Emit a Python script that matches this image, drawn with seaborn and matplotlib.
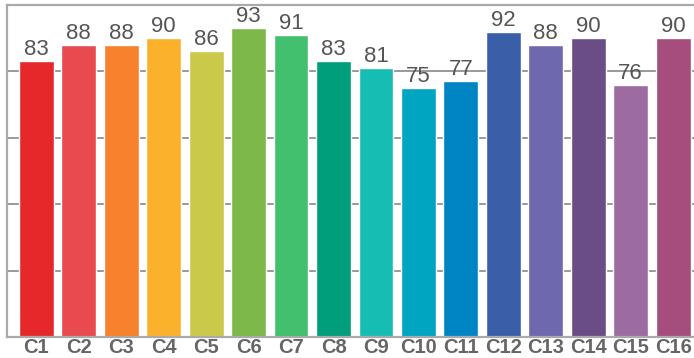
import matplotlib
matplotlib.use("Agg")
import matplotlib.pyplot as plt
import seaborn as sns
import pandas as pd

# --- Data ---
categories = ["C1", "C2", "C3", "C4", "C5", "C6", "C7", "C8",
              "C9", "C10", "C11", "C12", "C13", "C14", "C15", "C16"]
values = [83, 88, 88, 90, 86, 93, 91, 83, 81, 75, 77, 92, 88, 90, 76, 90]
bar_colors = ["#E6282B", "#E84A50", "#F7812C", "#FBB12B", "#CBC94A", "#7DB84A",
              "#42C06E", "#009E7A", "#16BDB2", "#00A5C2", "#0085C4", "#3A5FA8",
              "#6E68AE", "#6A4C87", "#9C6BA2", "#A54E7D"]

df = pd.DataFrame({"cat": categories, "val": values})

sns.set_theme(style="white")
plt.rcParams["font.family"] = ["Liberation Sans", "DejaVu Sans"]

fig = plt.figure(figsize=(6.94, 3.58), dpi=100)
ax = fig.add_axes([7 / 694, 21 / 358, 1 - 7 / 694, 332 / 358])
ax.set_axisbelow(True)

sns.barplot(data=df, x="cat", y="val", hue="cat", palette=bar_colors,
            legend=False, width=0.82, saturation=1, ax=ax)

for i, v in enumerate(values):
    ax.text(i, v + 0.3, str(v), ha="center", va="bottom",
            fontsize=16, color="#555555")

ax.set_ylim(0, 100)
ax.set_xlim(-0.69, 15.49)
ax.set_yticks([20, 40, 60, 80, 100])
ax.set_yticklabels([])
ax.yaxis.grid(True, color="#999999", linewidth=1.4)
ax.set_xlabel("")
ax.set_ylabel("")
ax.tick_params(axis="x", length=0, pad=1, labelsize=14.5, labelcolor="#666666")
ax.tick_params(axis="y", length=0)
for lbl in ax.get_xticklabels():
    lbl.set_fontweight("bold")

for side in ["left", "top", "bottom"]:
    ax.spines[side].set_color("#AAAAAA")
    ax.spines[side].set_linewidth(1.6)
ax.spines["right"].set_visible(False)

fig.savefig("out.png", dpi=100)
